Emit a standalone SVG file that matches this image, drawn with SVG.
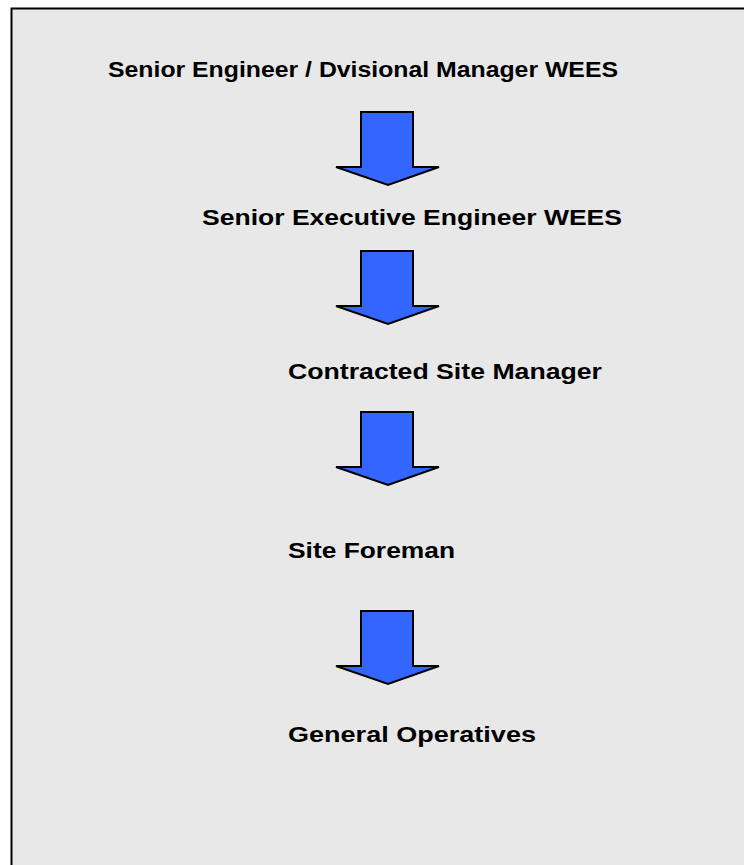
<svg xmlns="http://www.w3.org/2000/svg" width="744" height="865" viewBox="0 0 744 865">
<defs>
<style>
.bg{fill:#e8e8e8;stroke:#000;stroke-width:2}
.lbl{font-family:"Liberation Sans",Arial,sans-serif;font-weight:bold;font-size:22px;fill:#000}
.arrow{fill:#3366ff;stroke:#000;stroke-width:2;stroke-linejoin:miter}
</style>
<path id="dn" class="arrow" d="M-27,0 H25 V55 H51 L0,73 L-52,55 H-27 Z"/>
</defs>
<rect width="744" height="865" fill="#fff"/>
<rect class="bg" x="11.5" y="8.5" width="740" height="870"/>
<g id="connectors">
<use href="#dn" x="388" y="112"/>
<use href="#dn" x="388" y="251"/>
<use href="#dn" x="388" y="412"/>
<use href="#dn" x="388" y="611"/>
</g>
<g id="n1"><text class="lbl" x="108" y="77" textLength="510" lengthAdjust="spacingAndGlyphs">Senior Engineer / Dvisional Manager WEES</text></g>
<g id="n2"><text class="lbl" x="202" y="225" textLength="420" lengthAdjust="spacingAndGlyphs">Senior Executive Engineer WEES</text></g>
<g id="n3"><text class="lbl" x="288" y="379" textLength="314" lengthAdjust="spacingAndGlyphs">Contracted Site Manager</text></g>
<g id="n4"><text class="lbl" x="288" y="558" textLength="167" lengthAdjust="spacingAndGlyphs">Site Foreman</text></g>
<g id="n5"><text class="lbl" x="288" y="742" textLength="248" lengthAdjust="spacingAndGlyphs">General Operatives</text></g>
</svg>
